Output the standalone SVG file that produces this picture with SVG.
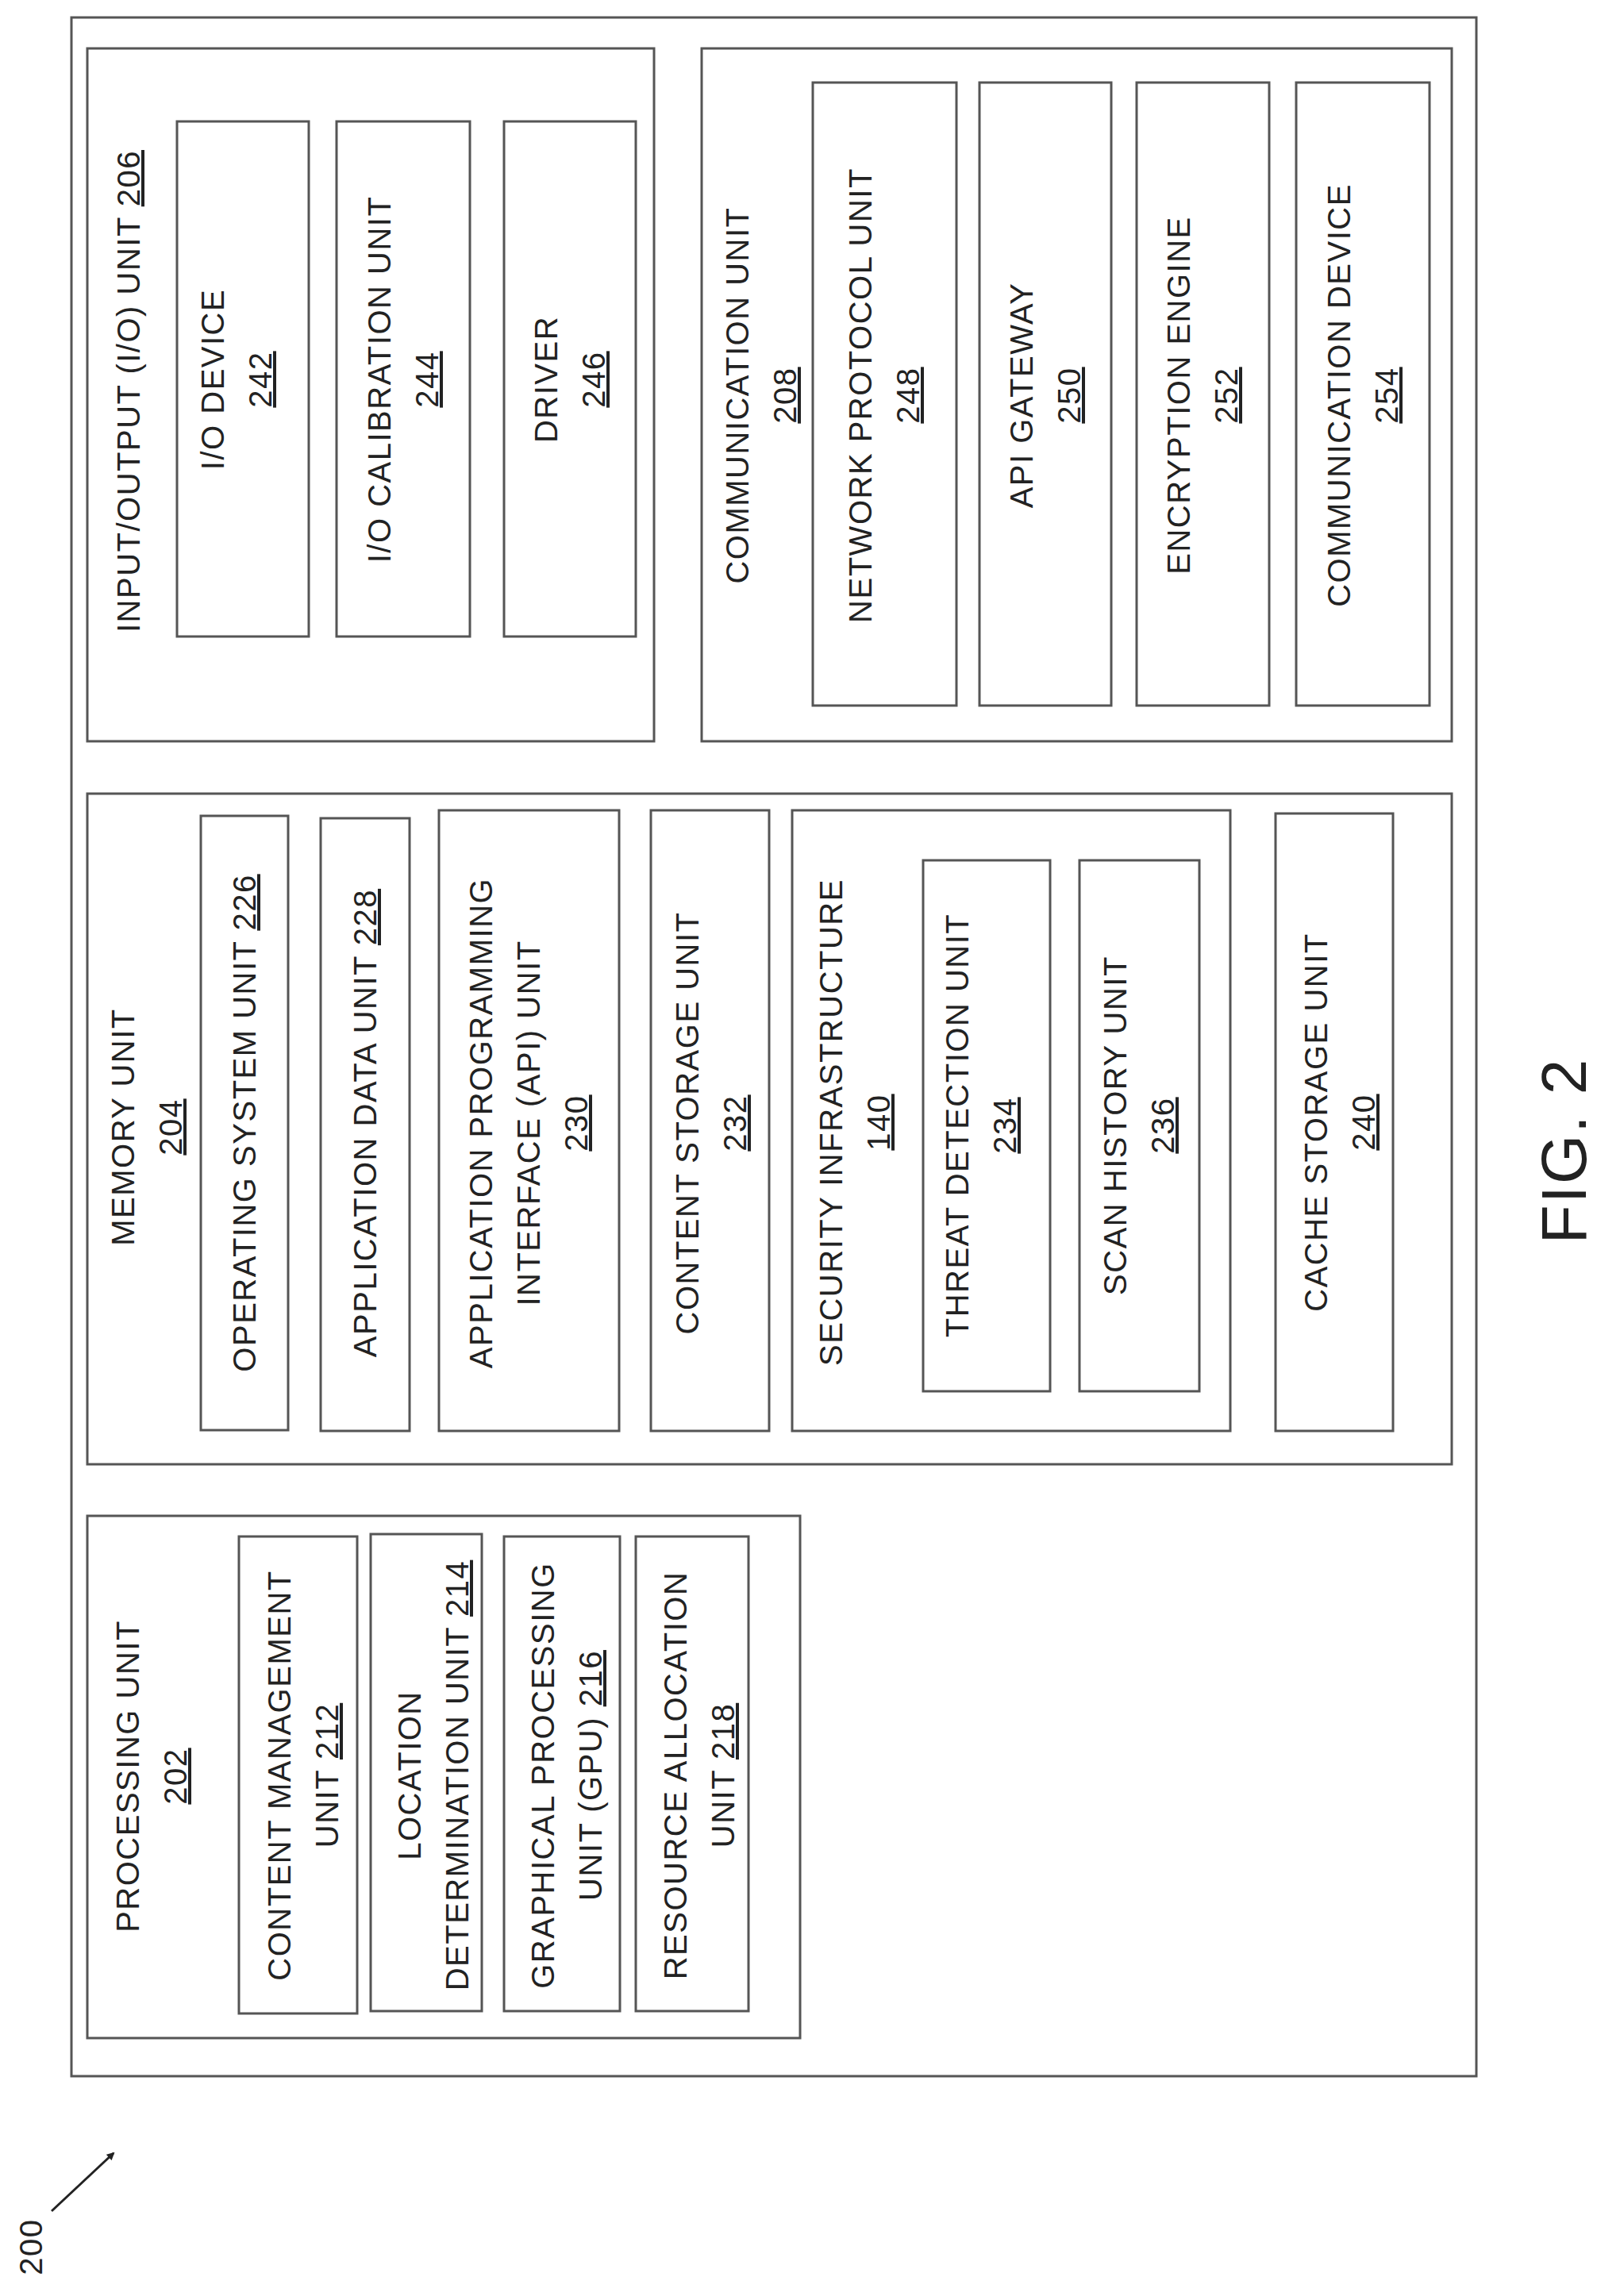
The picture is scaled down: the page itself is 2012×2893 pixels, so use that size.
<svg xmlns="http://www.w3.org/2000/svg" width="2012" height="2893" viewBox="0 0 2012 2893">
<style>
rect{fill:#fff;stroke:#555;stroke-width:3}
text{font-family:"Liberation Sans",Arial,sans-serif;font-size:40px;text-anchor:middle;fill:#222;letter-spacing:1.5px}
.u{text-decoration:underline}
</style>
<defs><marker id="ah" markerWidth="10" markerHeight="10" refX="8" refY="5" orient="auto" markerUnits="userSpaceOnUse" viewBox="0 0 10 10"><path d="M0,0 L10,5 L0,10 z" fill="#222"/></marker></defs>
<rect x="0" y="0" width="2012" height="2893" style="stroke:none"/>
<g id="system"><rect x="90" y="22" width="1770" height="2594"/></g>
<g id="io"><rect x="110" y="61" width="714" height="873"/>
<text transform="translate(162,493) rotate(-90)"><tspan x="0" y="14">INPUT/OUTPUT (I/O) UNIT <tspan class="u">206</tspan></tspan></text></g>
<g id="io242"><rect x="223" y="153" width="166" height="649"/><text transform="translate(298,478) rotate(-90)"><tspan x="0" y="-16">I/O DEVICE</tspan><tspan x="0" y="44" class="u">242</tspan></text></g>
<g id="io244"><rect x="424" y="153" width="168" height="649"/><text transform="translate(508,478) rotate(-90)"><tspan x="0" y="-16">I/O CALIBRATION UNIT</tspan><tspan x="0" y="44" class="u">244</tspan></text></g>
<g id="io246"><rect x="635" y="153" width="166" height="649"/><text transform="translate(718,478) rotate(-90)"><tspan x="0" y="-16">DRIVER</tspan><tspan x="0" y="44" class="u">246</tspan></text></g>
<g id="comm"><rect x="884" y="61" width="945" height="873"/>
<text transform="translate(959,498) rotate(-90)"><tspan x="0" y="-16">COMMUNICATION UNIT</tspan><tspan x="0" y="44" class="u">208</tspan></text></g>
<g id="c248"><rect x="1024" y="104" width="181" height="785"/><text transform="translate(1114,498) rotate(-90)"><tspan x="0" y="-16">NETWORK PROTOCOL UNIT</tspan><tspan x="0" y="44" class="u">248</tspan></text></g>
<g id="c250"><rect x="1234" y="104" width="166" height="785"/><text transform="translate(1317,498) rotate(-90)"><tspan x="0" y="-16">API GATEWAY</tspan><tspan x="0" y="44" class="u">250</tspan></text></g>
<g id="c252"><rect x="1432" y="104" width="167" height="785"/><text transform="translate(1515,498) rotate(-90)"><tspan x="0" y="-16">ENCRYPTION ENGINE</tspan><tspan x="0" y="44" class="u">252</tspan></text></g>
<g id="c254"><rect x="1633" y="104" width="168" height="785"/><text transform="translate(1717,498) rotate(-90)"><tspan x="0" y="-16">COMMUNICATION DEVICE</tspan><tspan x="0" y="44" class="u">254</tspan></text></g>
<g id="mem"><rect x="110" y="1000" width="1719" height="845"/>
<text transform="translate(185,1420) rotate(-90)"><tspan x="0" y="-16">MEMORY UNIT</tspan><tspan x="0" y="44" class="u">204</tspan></text></g>
<g id="m226"><rect x="253" y="1028" width="110" height="774"/><text transform="translate(308,1415) rotate(-90)"><tspan x="0" y="14">OPERATING SYSTEM UNIT <tspan class="u">226</tspan></tspan></text></g>
<g id="m228"><rect x="404" y="1031" width="112" height="772"/><text transform="translate(460,1415) rotate(-90)"><tspan x="0" y="14">APPLICATION DATA UNIT <tspan class="u">228</tspan></tspan></text></g>
<g id="m230"><rect x="553" y="1021" width="227" height="782"/><text transform="translate(666,1415) rotate(-90)"><tspan x="0" y="-46">APPLICATION PROGRAMMING</tspan><tspan x="0" y="14">INTERFACE (API) UNIT</tspan><tspan x="0" y="74" class="u">230</tspan></text></g>
<g id="m232"><rect x="820" y="1021" width="149" height="782"/><text transform="translate(896,1415) rotate(-90)"><tspan x="0" y="-16">CONTENT STORAGE UNIT</tspan><tspan x="0" y="44" class="u">232</tspan></text></g>
<g id="sec"><rect x="998" y="1021" width="552" height="782"/><text transform="translate(1077,1414) rotate(-90)"><tspan x="0" y="-16">SECURITY INFRASTRUCTURE</tspan><tspan x="0" y="44" class="u">140</tspan></text></g>
<g id="m234"><rect x="1163" y="1084" width="160" height="669"/><text transform="translate(1236,1418) rotate(-90)"><tspan x="0" y="-16">THREAT DETECTION UNIT</tspan><tspan x="0" y="44" class="u">234</tspan></text></g>
<g id="m236"><rect x="1360" y="1084" width="151" height="669"/><text transform="translate(1435,1418) rotate(-90)"><tspan x="0" y="-16">SCAN HISTORY UNIT</tspan><tspan x="0" y="44" class="u">236</tspan></text></g>
<g id="m240"><rect x="1607" y="1025" width="148" height="778"/><text transform="translate(1688,1414) rotate(-90)"><tspan x="0" y="-16">CACHE STORAGE UNIT</tspan><tspan x="0" y="44" class="u">240</tspan></text></g>
<g id="proc"><rect x="110" y="1910" width="898" height="658"/>
<text transform="translate(191,2238) rotate(-90)"><tspan x="0" y="-16">PROCESSING UNIT</tspan><tspan x="0" y="44" class="u">202</tspan></text></g>
<g id="p212"><rect x="301" y="1936" width="149" height="601"/><text transform="translate(382,2237) rotate(-90)"><tspan x="0" y="-16">CONTENT MANAGEMENT</tspan><tspan x="0" y="44">UNIT <tspan class="u">212</tspan></tspan></text></g>
<g id="p214"><rect x="467" y="1933" width="140" height="601"/><text transform="translate(546,2237) rotate(-90)"><tspan x="0" y="-16">LOCATION</tspan><tspan x="0" y="44">DETERMINATION UNIT <tspan class="u">214</tspan></tspan></text></g>
<g id="p216"><rect x="635" y="1936" width="146" height="598"/><text transform="translate(714,2237) rotate(-90)"><tspan x="0" y="-16">GRAPHICAL PROCESSING</tspan><tspan x="0" y="44">UNIT (GPU) <tspan class="u">216</tspan></tspan></text></g>
<g id="p218"><rect x="801" y="1936" width="142" height="598"/><text transform="translate(881,2237) rotate(-90)"><tspan x="0" y="-16">RESOURCE ALLOCATION</tspan><tspan x="0" y="44">UNIT <tspan class="u">218</tspan></tspan></text></g>
<g id="connectors"><line x1="65" y1="2786" x2="143" y2="2713" stroke="#222" stroke-width="3" marker-end="url(#ah)"/></g>
<g id="labels">
<text transform="translate(53,2831) rotate(-90)">200</text>
<text transform="translate(1998,1450) rotate(-90)" style="font-size:80px;letter-spacing:2px">FIG. 2</text>
</g>
</svg>
